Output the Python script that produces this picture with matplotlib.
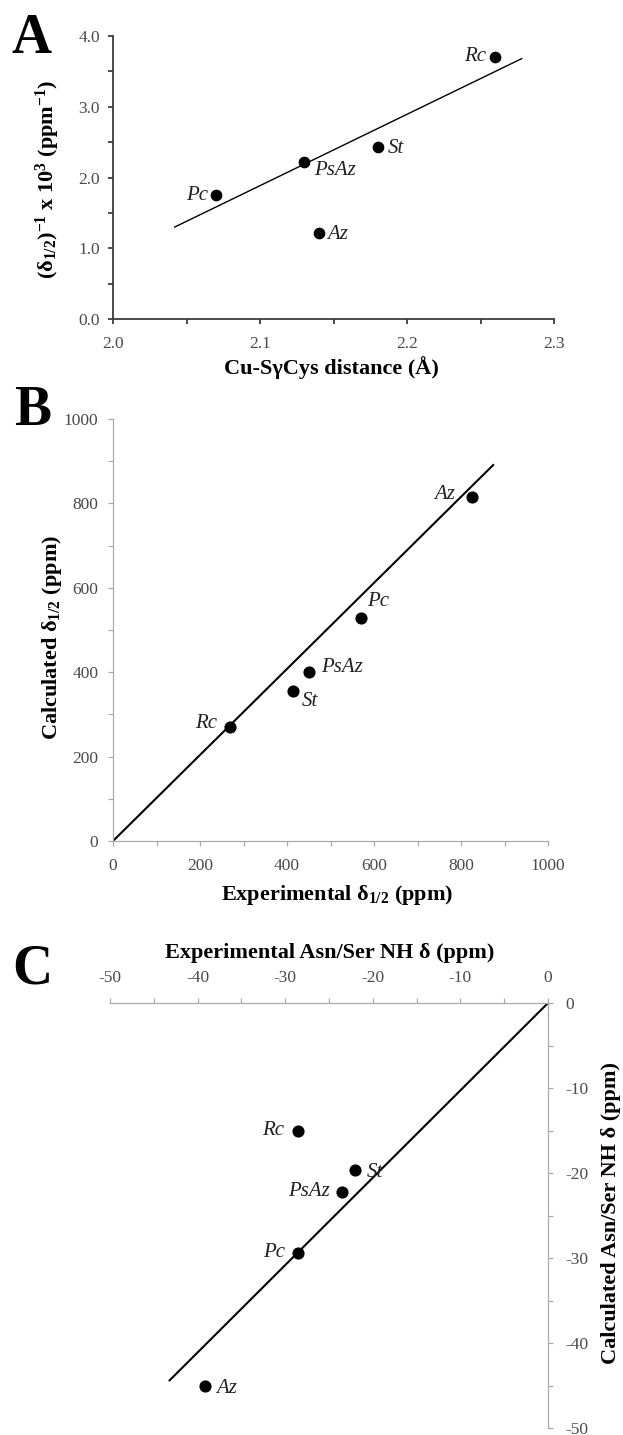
import numpy as np
import matplotlib
matplotlib.use("Agg")
import matplotlib.pyplot as plt
from matplotlib.ticker import MultipleLocator, FormatStrFormatter

plt.rcParams["font.family"] = ["Liberation Serif", "DejaVu Serif"]
plt.rcParams["mathtext.fontset"] = "custom"
plt.rcParams["mathtext.rm"] = "Liberation Serif"
plt.rcParams["mathtext.it"] = "Liberation Serif:italic"
plt.rcParams["mathtext.bf"] = "Liberation Serif:bold"
plt.rcParams["mathtext.default"] = "regular"
plt.rcParams["axes.unicode_minus"] = False

# panel A: Cu-S distance vs inverse shift
a_names = ["Pc", "PsAz", "Az", "St", "Rc"]
a_dist = [2.07, 2.13, 2.14, 2.18, 2.26]
a_inv = [1.75, 2.22, 1.21, 2.43, 3.71]
a_fit_x = [2.042, 2.278]
a_fit_y = [1.30, 3.68]

# panel B: experimental vs calculated contact shift
b_names = ["Az", "Pc", "PsAz", "St", "Rc"]
b_exp = [825, 571, 450, 413, 269]
b_calc = [816, 529, 401, 355, 269]
b_fit_x = [0, 874]
b_fit_y = [0, 891]

# panel C: Asn/Ser NH shifts
c_names = ["Rc", "St", "PsAz", "Pc", "Az"]
c_exp = [-28.5, -22.0, -23.5, -28.5, -39.1]
c_calc = [-15.0, -19.7, -22.2, -29.4, -45.1]
c_fit_x = [0, -43.2]
c_fit_y = [0, -44.4]

W, H = 623, 1435
fig = plt.figure(figsize=(W / 100, H / 100), dpi=100)

LABEL_FS = 16
TICK_FS = 12.5
NAME_FS = 15
LETTER_FS = 40


def box(x0, y0, x1, y1):
    return [x0 / W, 1 - y1 / H, (x1 - x0) / W, (y1 - y0) / H]


def ftext(x, y, s, **kw):
    fig.text(x / W, 1 - y / H, s, **kw)


def style(ax, spine_color, lw=0.9):
    for s in ax.spines.values():
        s.set_color(spine_color)
        s.set_linewidth(lw)
    ax.tick_params(which="both", direction="out", length=3.5, width=lw,
                   color=spine_color, labelcolor="#4a4a4a", labelsize=TICK_FS)


def label_points(ax, xs, ys, names, offsets):
    for x, y, n, (dx, dy, ha) in zip(xs, ys, names, offsets):
        ax.annotate(n, (x, y), xytext=(dx, dy), textcoords="offset pixels",
                    ha=ha, va="center", fontsize=NAME_FS, style="italic", color="#222222")


# ---- A ----
axA = fig.add_axes(box(113, 36, 554, 319))
axA.plot(a_fit_x, a_fit_y, color="black", lw=1.0)
axA.scatter(a_dist, a_inv, s=55, color="black", zorder=3)
axA.set_xlim(2.0, 2.3)
axA.set_ylim(0, 4)
axA.xaxis.set_major_locator(MultipleLocator(0.1))
axA.xaxis.set_minor_locator(MultipleLocator(0.05))
axA.yaxis.set_major_locator(MultipleLocator(1.0))
axA.yaxis.set_minor_locator(MultipleLocator(0.5))
axA.xaxis.set_major_formatter(FormatStrFormatter("%.1f"))
axA.yaxis.set_major_formatter(FormatStrFormatter("%.1f"))
axA.spines[["top", "right"]].set_visible(False)
style(axA, "#3c3c3c", 1.3)
axA.tick_params(axis="x", pad=9)
axA.tick_params(axis="y", pad=6)
label_points(axA, a_dist, a_inv, a_names,
             [(-8, 0, "right"), (10, -9, "left"), (8, -1, "left"), (10, -1, "left"), (-9, 0, "right")])

ftext(12, 53, "A", fontsize=LETTER_FS, fontweight="bold", ha="left", va="baseline")
ftext(331, 368, "Cu-SγCys distance (Å)", fontsize=LABEL_FS, fontweight="bold", ha="center", va="center")
ftext(48, 179, r"(δ$_{1/2}$)$^{-1}$ x 10$^{3}$ (ppm$^{-1}$)", fontsize=LABEL_FS, fontweight="bold",
      ha="center", va="center", rotation=90)

# ---- B ----
axB = fig.add_axes(box(113, 419, 548, 841))
axB.plot(b_fit_x, b_fit_y, color="black", lw=1.5)
axB.scatter(b_exp, b_calc, s=60, color="black", zorder=3)
axB.set_xlim(0, 1000)
axB.set_ylim(0, 1000)
axB.xaxis.set_major_locator(MultipleLocator(200))
axB.xaxis.set_minor_locator(MultipleLocator(100))
axB.yaxis.set_major_locator(MultipleLocator(200))
axB.yaxis.set_minor_locator(MultipleLocator(100))
axB.spines[["top", "right"]].set_visible(False)
style(axB, "#aaaaaa")
axB.tick_params(axis="x", pad=9)
axB.tick_params(axis="y", pad=7)
label_points(axB, b_exp, b_calc, b_names,
             [(-17, 2, "right"), (6, 16, "left"), (12, 4, "left"), (9, -10, "left"), (-13, 4, "right")])

ftext(14, 425, "B", fontsize=LETTER_FS, fontweight="bold", ha="left", va="baseline")
ftext(337, 895, r"Experimental δ$_{1/2}$ (ppm)", fontsize=LABEL_FS, fontweight="bold", ha="center", va="center")
ftext(52, 637, r"Calculated δ$_{1/2}$ (ppm)", fontsize=LABEL_FS, fontweight="bold",
      ha="center", va="center", rotation=90)

# ---- C ----
axC = fig.add_axes(box(110, 1003, 548, 1428))
axC.plot(c_fit_x, c_fit_y, color="black", lw=1.5)
axC.scatter(c_exp, c_calc, s=60, color="black", zorder=3)
axC.set_xlim(-50, 0)
axC.set_ylim(-50, 0)
axC.xaxis.tick_top()
axC.yaxis.tick_right()
axC.xaxis.set_major_locator(MultipleLocator(10))
axC.xaxis.set_minor_locator(MultipleLocator(5))
axC.yaxis.set_major_locator(MultipleLocator(10))
axC.yaxis.set_minor_locator(MultipleLocator(5))
axC.spines[["bottom", "left"]].set_visible(False)
style(axC, "#aaaaaa")
axC.tick_params(axis="x", pad=9)
axC.tick_params(axis="y", pad=9)
label_points(axC, c_exp, c_calc, c_names,
             [(-14, 0, "right"), (11, -2, "left"), (-12, 0, "right"), (-13, 0, "right"), (11, -2, "left")])

ftext(12, 984, "C", fontsize=LETTER_FS, fontweight="bold", ha="left", va="baseline")
ftext(330, 953, "Experimental Asn/Ser NH δ (ppm)", fontsize=LABEL_FS, fontweight="bold", ha="center", va="center")
ftext(611, 1213, "Calculated Asn/Ser NH δ (ppm)", fontsize=LABEL_FS, fontweight="bold",
      ha="center", va="center", rotation=90)

fig.savefig("out.png", dpi=100, facecolor="white")
